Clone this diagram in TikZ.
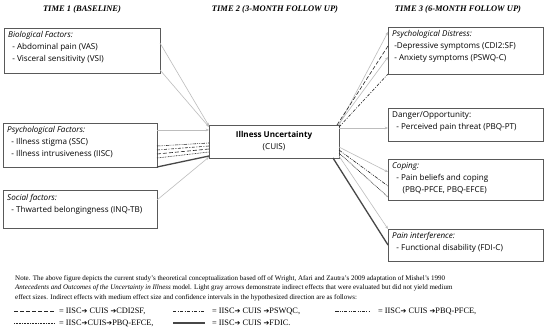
\documentclass[tikz,border=0pt]{standalone}
\usepackage{fontspec}
\setmainfont{Liberation Serif}
\newfontfamily\boxfont{Open Sans}
\newfontfamily\arrowfont{DejaVu Sans}
\usetikzlibrary{arrows.meta, positioning, calc}
\definecolor{uiboxgray}{HTML}{595959}
\definecolor{uilightgray}{HTML}{BDBDBD}
\definecolor{uidark}{HTML}{262626}
\newcommand{\uiarr}{{\arrowfont\fontsize{7}{9}\selectfont ➔}}

\begin{document}
\begin{tikzpicture}[
  x=1pt, y=-1pt,
  every node/.style={font=\boxfont\fontsize{8.1}{12}\selectfont},
  factor/.style={rectangle, draw=uiboxgray, line width=0.7pt, anchor=north west, inner sep=0pt, outer sep=0pt},
  factortext/.style={anchor=north west, align=left, inner sep=0pt, font=\boxfont\fontsize{8.1}{12}\selectfont},
  header/.style={font=\fontsize{8.5}{9}\selectfont\bfseries\itshape},
  grayarrow/.style={-{Stealth[length=3.2pt, width=2.6pt]}, uilightgray, line width=0.6pt},
  pcdi/.style={uidark, line width=0.6pt, dash pattern=on 4pt off 2pt},
  ppswq/.style={uidark, line width=0.6pt, dash pattern=on 3pt off 1.5pt on 1pt off 1.5pt},
  ppfce/.style={uidark, line width=0.6pt, dash pattern=on 3.5pt off 1.2pt on 0.9pt off 1.2pt on 0.9pt off 1.2pt},
  pefce/.style={uidark, line width=0.6pt, dash pattern=on 0.8pt off 0.8pt},
  pfdi/.style={uiboxgray!80!black, line width=1.3pt},
  notetext/.style={anchor=north west, align=left, inner sep=0pt, font=\fontsize{7}{9.6}\selectfont},
  legtext/.style={anchor=west, inner sep=0pt, font=\fontsize{8.3}{9}\selectfont},
]
\fill[white] (0,0) rectangle (550,335);
\useasboundingbox (0,0) rectangle (550,335);

% Time headers
\node[header] (t1) at (82, 9) {TIME 1 (BASELINE)};
\node[header] (t2) at (275, 9) {TIME 2 (3-MONTH FOLLOW UP)};
\node[header] (t3) at (458, 9) {TIME 3 (6-MONTH FOLLOW UP)};

% Time 1: antecedents
\node[factor, minimum width=156, minimum height=45,
  label={[factortext, xshift=4pt, yshift=-3pt]north west:{\textit{Biological Factors:}\\
  \ \ - Abdominal pain (VAS)\\ \ \ - Visceral sensitivity (VSI)}}] (bio) at (4, 28) {};
\node[factor, minimum width=154, minimum height=44,
  label={[factortext, xshift=4pt, yshift=-3pt]north west:{\textit{Psychological Factors:}\\
  \ \ - Illness stigma (SSC)\\ \ \ - Illness intrusiveness (IISC)}}] (psy) at (3, 123) {};
\node[factor, minimum width=154, minimum height=38,
  label={[factortext, xshift=4pt, yshift=-4pt]north west:{\textit{Social factors:}\\
  \ \ - Thwarted belongingness (INQ-TB)}}] (soc) at (3, 190) {};

% Time 2: mediator
\node[factor, minimum width=130, minimum height=33, align=center, anchor=north west] (cuis) at (209, 125)
  {\textbf{Illness Uncertainty}\\(CUIS)};

% Time 3: outcomes
\node[factor, minimum width=155, minimum height=47,
  label={[factortext, xshift=4pt, yshift=-3pt]north west:{\textit{Psychological Distress:}\\
  \ -Depressive symptoms (CDI2:SF)\\ \ - Anxiety symptoms (PSWQ-C)}}] (dist) at (388, 27) {};
\node[factor, minimum width=155, minimum height=33,
  label={[factortext, xshift=4pt, yshift=-3pt]north west:{Danger/Opportunity:\\
  \ \ - Perceived pain threat (PBQ-PT)}}] (dang) at (388, 108) {};
\node[factor, minimum width=155, minimum height=41,
  label={[factortext, xshift=4pt, yshift=-3pt]north west:{\textit{Coping:}\\
  \ \ - Pain beliefs and coping\\ \ \ \ \ \ (PBQ-PFCE, PBQ-EFCE)}}] (cope) at (388, 159) {};
\node[factor, minimum width=155, minimum height=32,
  label={[factortext, xshift=4pt, yshift=-3pt]north west:{\textit{Pain interference:}\\
  \ \ - Functional disability (FDI-C)}}] (pain) at (388, 229) {};

% Light gray arrows (evaluated, no medium effect)
\draw[grayarrow] ([yshift=-15pt]bio.north east) -- ([yshift=-1pt]cuis.north west);
\draw[grayarrow] ([yshift=-42pt]bio.north east) -- ([yshift=-2pt]cuis.north west);
\draw[grayarrow] ([yshift=-7pt]psy.north east) -- ([yshift=-5pt]cuis.north west);
\draw[grayarrow] ([yshift=-10pt]soc.north east) -- ([yshift=1pt]cuis.south west);
\draw[grayarrow] (cuis.north east) -- ([yshift=-5pt]dist.north west);
\draw[grayarrow] ([xshift=-1pt]cuis.north east) -- ([yshift=-30pt]dist.north west);
\draw[grayarrow] ([yshift=-3pt]cuis.north east) -- ([yshift=-20pt]dang.north west);
\draw[grayarrow] ([yshift=-22pt]cuis.north east) -- ([yshift=-13pt]cope.north west);
\draw[grayarrow] ([yshift=2pt]cuis.south east) -- (pain.north west);

% IISC -> CUIS
\draw[ppfce] ([yshift=-23pt]psy.north east) -- ([yshift=-18pt]cuis.north west);
\draw[ppswq] ([yshift=-27pt]psy.north east) -- ([yshift=-21pt]cuis.north west);
\draw[pcdi] ([yshift=-31pt]psy.north east) -- ([yshift=-24pt]cuis.north west);
\draw[pefce] ([yshift=-35pt]psy.north east) -- ([yshift=-27pt]cuis.north west);
\draw[pfdi] (psy.south east) -- ([yshift=-31pt]cuis.north west);

% CUIS -> outcomes
\draw[pcdi] ([xshift=-2pt]cuis.north east) -- ([yshift=-19pt]dist.north west);
\draw[ppswq] ([yshift=-2pt]cuis.north east) -- (dist.south west);
\draw[ppfce] ([yshift=-25pt]cuis.north east) -- ([yshift=-27pt]cope.north west);
\draw[pefce] ([yshift=-28pt]cuis.north east) -- ([yshift=3pt]cope.south west);
\draw[pfdi] ([xshift=-6pt]cuis.south east) -- ([yshift=-16pt]pain.north west);

% Note and legend
\node[notetext] (note) at (15, 275) {Note. The above figure depicts the current study’s theoretical conceptualization based off of Wright, Afari and Zautra’s 2009 adaptation of Mishel’s 1990\\
\textit{Antecedents and Outcomes of the Uncertainty in Illness} model. Light gray arrows demonstrate indirect effects that were evaluated but did not yield medium\\
effect sizes. Indirect effects with medium effect size and confidence intervals in the hypothesized direction are as follows:};

\node[legtext] (lg1) at (59, 311) {= IISC\uiarr{} CUIS \uiarr{}CDI2SF,};
\node[legtext] (lg2) at (212, 311) {= IISC\uiarr{} CUIS \uiarr{}PSWQC,};
\node[legtext] (lg3) at (378, 311) {= IISC\uiarr{} CUIS \uiarr{}PBQ-PFCE,};
\node[legtext] (lg4) at (59, 323) {= IISC\uiarr{}CUIS\uiarr{}PBQ-EFCE,};
\node[legtext] (lg5) at (212, 323) {= IISC\uiarr{} CUIS \uiarr{}FDIC.};

\draw[pcdi] ([xshift=-45pt]lg1.west) -- ([xshift=-4pt]lg1.west);
\draw[ppswq] ([xshift=-39pt]lg2.west) -- ([xshift=-7pt]lg2.west);
\draw[ppfce] ([xshift=-43pt]lg3.west) -- ([xshift=-8pt]lg3.west);
\draw[pefce] ([xshift=-45pt]lg4.west) -- ([xshift=-4pt]lg4.west);
\draw[pfdi] ([xshift=-39pt]lg5.west) -- ([xshift=-7pt]lg5.west);

\end{tikzpicture}
\end{document}
